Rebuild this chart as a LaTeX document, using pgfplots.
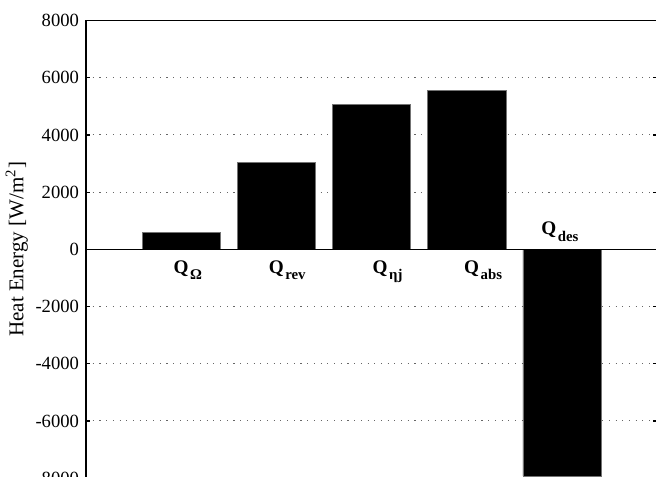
\documentclass[border=0pt]{standalone}
\usepackage{fontspec}
\setmainfont{Liberation Serif}
\usepackage{pgfplots}
\pgfplotsset{compat=1.18}
\newcommand\Ql[1]{\fontsize{9.6}{10}\selectfont\textbf{Q}\kern0.8pt\raisebox{-3.4pt}{\fontsize{7.4}{8}\selectfont\textbf{#1}}}
\begin{document}
\begin{tikzpicture}
\begin{axis}[
  name=ax,
  scale only axis,
  width=285.5pt, height=228.75pt,
  xmin=0, xmax=6, ymin=-8000, ymax=8000,
  ytick={-8000,-6000,...,8000},
  xtick=\empty,
  ymajorgrids,
  grid style={black!60, line width=0.5pt, dash pattern=on 0.55pt off 2.8pt},
  axis line style={black, line width=0.7pt},
  tick style={black, line width=0.6pt},
  major tick length=2pt,
  tick align=inside,
  ytick pos=both,
  tick label style={font=\fontsize{9.3}{10}\selectfont},
  /pgf/number format/assume math mode=true,
  /pgf/number format/set thousands separator={},
  yticklabel style={xshift=0pt},
  ylabel={Heat Energy [W/m\textsuperscript{2}]},
  ylabel style={font=\fontsize{10.5}{12}\selectfont, yshift=-3pt},
  axis on top=false,
]
\addplot[ybar, bar width=0.82, fill=black, draw=black!55, line width=0.3pt] coordinates {
  (1,605) (2,3040) (3,5055) (4,5570) (5,-7930)
};
\draw[black, line width=0.7pt] (axis cs:0,0) -- (axis cs:6,0);
\node[anchor=north west, inner sep=0pt] at (axis cs:0.916,-374) {\Ql{Ω}};
\node[anchor=north west, inner sep=0pt] at (axis cs:1.916,-374) {\Ql{rev}};
\node[anchor=north west, inner sep=0pt] at (axis cs:3.007,-374) {\Ql{ηj}};
\node[anchor=north west, inner sep=0pt] at (axis cs:3.968,-374) {\Ql{abs}};
\node[anchor=north west, inner sep=0pt] at (axis cs:4.779,965) {\Ql{des}};
\end{axis}
\pgfresetboundingbox
\useasboundingbox ([shift={(-43pt,0.6pt)}]ax.south west) rectangle ([shift={(-0.6pt,10.25pt)}]ax.north east);
\end{tikzpicture}
\end{document}
